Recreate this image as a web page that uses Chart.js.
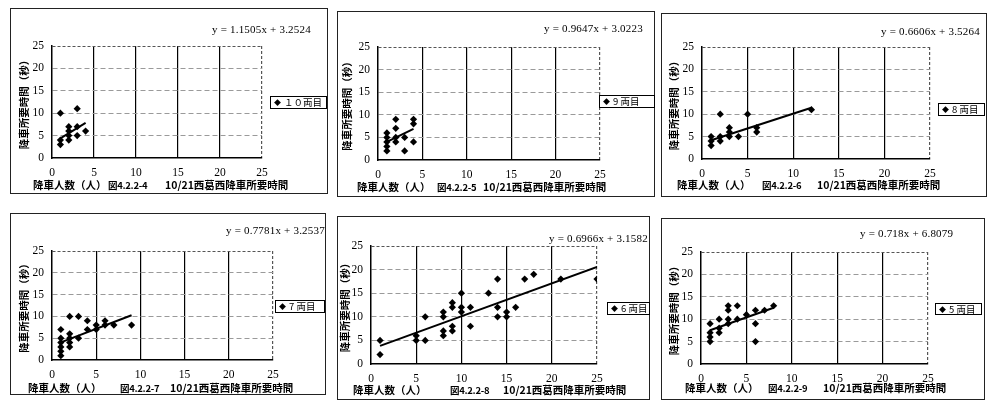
<!DOCTYPE html>
<html>
<head>
<meta charset="utf-8">
<script src="https://cdn.jsdelivr.net/npm/chart.js"></script>
<style>
  body { margin: 0; background: #fff; width: 1000px; height: 413px; position: relative; overflow: hidden; }
  canvas { position: absolute; }
  .box { position: absolute; border: 1.5px solid #222; box-sizing: border-box; pointer-events: none; }
  .eq { position: absolute; font: 11px "Liberation Serif", serif; white-space: nowrap; color: #000; line-height: 12px; letter-spacing: 0.2px; }
  .leg { position: absolute; border: 1px solid #000; background: #fff; box-sizing: border-box; font: 9.5px "Noto Sans CJK JP", sans-serif; line-height: 11px; padding-left: 3px; white-space: nowrap; overflow: hidden; }
  .leg .mk { font-size: 7px; vertical-align: 1px; margin-right: 3px; }
  .cap { position: absolute; font: bold 10.5px "Noto Sans CJK JP", sans-serif; white-space: nowrap; line-height: 12px; }
  .cap.fig { font-size: 9.5px; letter-spacing: -0.3px; }
</style>
</head>
<body>
<script>
  // axis ticks (same on every panel)
  var xTicks = [0, 5, 10, 15, 20, 25];
  var yTicks = [0, 5, 10, 15, 20, 25];

  // 10両目
  var car10X = [1, 1, 1, 2, 2, 2, 2, 3, 3, 3, 4];
  var car10Y = [10, 4, 3, 4, 5, 6, 7, 11, 7, 5, 6];
  var trend10X = [1, 4];
  var trend10Y = [4.40, 7.85];

  // 9両目
  var car9X = [1, 1, 1, 1, 1, 2, 2, 2, 2, 3, 3, 4, 4, 4];
  var car9Y = [6, 5, 4, 3, 2, 9, 7, 5, 4, 5, 2, 9, 8, 4];
  var trend9X = [1, 4];
  var trend9Y = [3.99, 6.88];

  // 8両目
  var car8X = [1, 1, 1, 2, 2, 2, 3, 3, 3, 4, 5, 6, 6, 12];
  var car8Y = [5, 4, 3, 10, 5, 4, 7, 6, 5, 5, 10, 7, 6, 11];
  var trend8X = [1, 12];
  var trend8Y = [4.19, 11.45];

  // 7両目
  var car7X = [1, 1, 1, 1, 1, 1, 2, 2, 2, 2, 2, 3, 3, 4, 4, 5, 5, 6, 6, 7, 9];
  var car7Y = [1, 2, 3, 4, 5, 7, 3, 4, 5, 6, 10, 5, 10, 7, 9, 7, 8, 8, 9, 8, 8];
  var trend7X = [1, 9];
  var trend7Y = [4.03, 10.26];

  // 6両目
  var car6X = [1, 1, 5, 5, 6, 6, 8, 8, 8, 8, 9, 9, 9, 9, 10, 10, 10, 11, 11, 13, 14, 14, 14, 15, 15, 16, 17, 18, 21, 25];
  var car6Y = [5, 2, 6, 5, 10, 5, 11, 10, 7, 6, 13, 12, 8, 7, 15, 12, 11, 12, 8, 15, 18, 12, 10, 11, 10, 12, 18, 19, 18, 18];
  var trend6X = [1, 25];
  var trend6Y = [3.85, 20.57];

  // 5両目
  var car5X = [1, 1, 1, 1, 2, 2, 2, 3, 3, 3, 3, 4, 4, 5, 6, 6, 6, 7, 8];
  var car5Y = [9, 7, 6, 5, 10, 8, 7, 13, 12, 10, 9, 13, 10, 11, 12, 9, 5, 12, 13];
  var trend5X = [1, 8];
  var trend5Y = [7.53, 12.55];

  var legendLabels = ['１０両目', '9 両目', '8 両目', '7 両目', '6 両目', '5 両目'];
  var equations = ['y = 1.1505x + 3.2524', 'y = 0.9647x + 3.0223', 'y = 0.6606x + 3.5264',
                   'y = 0.7781x + 3.2537', 'y = 0.6966x + 3.1582', 'y = 0.718x + 6.8079'];
  var figureNames = ['図4.2.2-4', '図4.2.2-5', '図4.2.2-6', '図4.2.2-7', '図4.2.2-8', '図4.2.2-9'];
  var xTitle = '降車人数（人）';
  var yTitle = '降車所要時間（秒）';
  var subTitle = '10/21西葛西降車所要時間';

  var seriesX = [car10X, car9X, car8X, car7X, car6X, car5X];
  var seriesY = [car10Y, car9Y, car8Y, car7Y, car6Y, car5Y];
  var trendX = [trend10X, trend9X, trend8X, trend7X, trend6X, trend5X];
  var trendY = [trend10Y, trend9Y, trend8Y, trend7Y, trend6Y, trend5Y];

  // layout of each panel: box [x,y,w,h], plot [left,top,right,bottom], y-title offset,
  // equation [right,centerY], legend [x,y,w,h], caption [xA,xB,xC,centerY]
  var panels = [
    { box: [10, 8, 318, 186], plot: [52, 46, 262, 158], yt: 8, eq: [311, 29], leg: [270, 96, 57, 13], cap: [33, 108, 165, 185] },
    { box: [337, 11, 318, 186], plot: [378, 47, 600, 160], yt: 4, eq: [643, 28], leg: [599, 95, 56, 13], cap: [357, 437, 483, 187] },
    { box: [661, 13, 326, 184], plot: [702, 47, 930, 159], yt: 7, eq: [980, 31], leg: [938, 103, 47, 13], cap: [677, 762, 817, 185] },
    { box: [10, 213, 316, 182], plot: [52, 251, 273, 360], yt: 8, eq: [325, 230], leg: [275, 300, 50, 13], cap: [28, 120, 170, 388] },
    { box: [337, 216, 313, 184], plot: [371, 246, 597, 364], yt: 2, eq: [648, 238], leg: [607, 302, 43, 13], cap: [353, 450, 503, 390] },
    { box: [661, 218, 324, 182], plot: [701, 252, 928, 364], yt: 7, eq: [953, 233], leg: [935, 303, 47, 12], cap: [685, 768, 823, 388] }
  ];

  function addDiv(cls, text, css) {
    var d = document.createElement('div');
    d.className = cls;
    d.textContent = text;
    Object.assign(d.style, css);
    document.body.appendChild(d);
    return d;
  }

  panels.forEach(function (p, i) {
    var bx = p.box[0], by = p.box[1], bw = p.box[2], bh = p.box[3];
    var canvas = document.createElement('canvas');
    canvas.width = bw;
    canvas.height = bh;
    canvas.style.left = bx + 'px';
    canvas.style.top = by + 'px';
    document.body.appendChild(canvas);

    var points = seriesX[i].map(function (x, k) { return { x: x, y: seriesY[i][k] }; });
    var line = trendX[i].map(function (x, k) { return { x: x, y: trendY[i][k] }; });

    new Chart(canvas.getContext('2d'), {
      type: 'scatter',
      data: {
        datasets: [
          {
            data: line,
            showLine: true,
            borderColor: '#000',
            borderWidth: 2,
            pointRadius: 0
          },
          {
            data: points,
            pointStyle: 'rectRot',
            pointRadius: 3.6,
            backgroundColor: '#000',
            borderColor: '#000',
            borderWidth: 0
          }
        ]
      },
      options: {
        responsive: false,
        animation: false,
        devicePixelRatio: 1,
        layout: {
          padding: { left: 0, top: p.plot[1] - by, right: bx + bw - p.plot[2], bottom: 0 }
        },
        plugins: { legend: { display: false }, tooltip: { enabled: false } },
        scales: {
          x: {
            type: 'linear',
            min: 0, max: 25,
            afterBuildTicks: function (s) { s.ticks = xTicks.map(function (v) { return { value: v }; }); },
            afterFit: function (s) { s.height = by + bh - p.plot[3]; },
            ticks: { color: '#000', padding: 8, font: { family: 'Liberation Serif', size: 11.5 } },
            grid: {
              drawTicks: false,
              lineWidth: 1.2,
              color: function (c) { return c.tick && c.tick.value === 0 ? 'rgba(0,0,0,0)' : (c.tick && c.tick.value === 25 ? '#555' : '#000'); }
            },
            border: {
              display: true, color: '#000', width: 1.5,
              dash: function (c) { return c.type === 'tick' && c.tick.value === 25 ? [3, 2] : []; }
            }
          },
          y: {
            type: 'linear',
            min: 0, max: 25,
            afterBuildTicks: function (s) { s.ticks = yTicks.map(function (v) { return { value: v }; }); },
            afterFit: function (s) { s.width = p.plot[0] - bx; },
            ticks: { color: '#000', padding: 8, font: { family: 'Liberation Serif', size: 11.5 } },
            title: {
              display: true,
              text: yTitle,
              color: '#000',
              padding: { top: p.yt, bottom: 0 },
              font: { family: 'Noto Sans CJK JP', size: 10.5, weight: 'bold' }
            },
            grid: {
              drawTicks: false,
              lineWidth: 1,
              color: function (c) { return c.tick && c.tick.value === 0 ? 'rgba(0,0,0,0)' : (c.tick && c.tick.value === 25 ? '#555' : '#9a9a9a'); }
            },
            border: {
              display: true, color: '#000', width: 1.5,
              dash: function (c) { return c.type === 'tick' ? (c.tick.value === 25 ? [3, 2] : [5, 3]) : []; }
            }
          }
        }
      }
    });

    addDiv('box', '', { left: bx + 'px', top: by + 'px', width: bw + 'px', height: bh + 'px' });

    var eq = addDiv('eq', equations[i], { top: (p.eq[1] - 6) + 'px' });
    eq.style.left = (p.eq[0] - eq.offsetWidth) + 'px';

    var leg = addDiv('leg', '', {
      left: p.leg[0] + 'px', top: p.leg[1] + 'px', width: p.leg[2] + 'px', height: p.leg[3] + 'px'
    });
    var mk = document.createElement('span');
    mk.className = 'mk';
    mk.textContent = '◆';
    leg.appendChild(mk);
    leg.appendChild(document.createTextNode(legendLabels[i]));

    addDiv('cap', xTitle, { left: p.cap[0] + 'px', top: (p.cap[3] - 6) + 'px' });
    addDiv('cap fig', figureNames[i], { left: p.cap[1] + 'px', top: (p.cap[3] - 6) + 'px' });
    addDiv('cap', subTitle, { left: p.cap[2] + 'px', top: (p.cap[3] - 6) + 'px' });
  });
</script>
</body>
</html>
